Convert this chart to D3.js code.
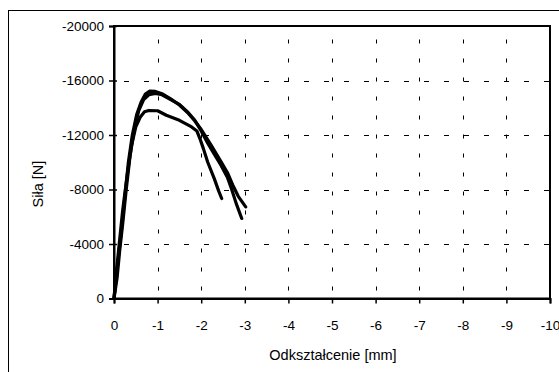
<!DOCTYPE html>
<html><head><meta charset="utf-8">
<script src="https://cdn.jsdelivr.net/npm/d3@7/dist/d3.min.js"></script>
<style>body{margin:0;background:#fff;} text{font-family:"Liberation Sans",Arial,sans-serif;}</style>
</head><body><svg id="c" width="559" height="372"></svg>
<script>
const xTicks = [0,-1,-2,-3,-4,-5,-6,-7,-8,-9,-10];
const yTicks = [0,-4000,-8000,-12000,-16000,-20000];
const xTitle = "Odkształcenie [mm]";
const yTitle = "Siła [N]";
const seriesA_x = [0,-0.05,-0.1,-0.17,-0.25,-0.33,-0.42,-0.52,-0.62,-0.72,-0.82,-0.95,-1.1,-1.3,-1.5,-1.7,-1.85,-1.98,-2.1,-2.22,-2.35,-2.48,-2.6,-2.72,-2.85,-3.02];
const seriesA_y = [0,-1500,-3000,-5000,-7500,-10000,-12000,-13500,-14400,-15000,-15220,-15200,-15030,-14650,-14200,-13600,-13050,-12500,-11900,-11300,-10600,-9900,-9250,-8350,-7500,-6725];
const seriesB_x = [0,-0.07,-0.13,-0.2,-0.28,-0.37,-0.47,-0.57,-0.68,-0.8,-0.95,-1.1,-1.3,-1.5,-1.7,-1.85,-2.0,-2.15,-2.3,-2.45,-2.6,-2.7,-2.8,-2.93];
const seriesB_y = [0,-1500,-3500,-5500,-8000,-10500,-12500,-13800,-14600,-14950,-15050,-14950,-14600,-14250,-13650,-13100,-12300,-11400,-10600,-9800,-8900,-8000,-7000,-5875];
const seriesC_x = [0,-0.05,-0.12,-0.2,-0.3,-0.4,-0.5,-0.6,-0.7,-0.8,-1.0,-1.2,-1.5,-1.78,-1.9,-1.97,-2.05,-2.15,-2.3,-2.4,-2.47];
const seriesC_y = [0,-1800,-4000,-6500,-9000,-11200,-12600,-13300,-13700,-13800,-13780,-13450,-13080,-12590,-12300,-11740,-11000,-10000,-8800,-7900,-7340];

const svg = d3.select("#c");
const L=114, R=550, T=26, B=298.5;
const x = d3.scaleLinear().domain([0,-10]).range([L,R]);
const y = d3.scaleLinear().domain([0,-20000]).range([B,T]);

// outer frame
svg.append("rect").attr("x",8.5).attr("y",10.5).attr("width",600).attr("height",400)
  .attr("fill","none").attr("stroke","#000").attr("stroke-width",1);

// gridlines
const g = svg.append("g");
g.selectAll(".vg").data(xTicks.slice(1,-1)).enter().append("line")
  .attr("x1",d=>Math.round(x(d))+0.5).attr("x2",d=>Math.round(x(d))+0.5)
  .attr("y1",B).attr("y2",T)
  .attr("stroke","#000").attr("stroke-width",1).attr("stroke-dasharray","4,15").attr("stroke-dashoffset",-8);
g.selectAll(".hg").data(yTicks.slice(1,-1)).enter().append("line")
  .attr("y1",d=>Math.round(y(d))+0.5).attr("y2",d=>Math.round(y(d))+0.5)
  .attr("x1",L).attr("x2",R)
  .attr("stroke","#000").attr("stroke-width",1).attr("stroke-dasharray","5,15").attr("stroke-dashoffset",-10);

// plot frame
svg.append("rect").attr("x",L).attr("y",T).attr("width",R-L).attr("height",B-T)
  .attr("fill","none").attr("stroke","#000").attr("stroke-width",2);

// axes
const xAxis = d3.axisBottom(x).tickValues(xTicks).tickSize(5).tickFormat(d=>d===0?"0":String(d));
const gx = svg.append("g").attr("transform",`translate(0,${B})`).call(xAxis);
gx.select(".domain").attr("stroke-width",2);
gx.selectAll(".tick line").attr("stroke-width",1.5);
gx.selectAll("text").attr("font-size",13.5).attr("y",31.5).attr("dy",0).attr("fill","#000")
  .attr("font-family","Liberation Sans, Arial, sans-serif");

const yAxis = d3.axisLeft(y).tickValues(yTicks).tickSize(5).tickPadding(5).tickFormat(d=>d===0?"0":String(d));
const gy = svg.append("g").attr("transform",`translate(${L},0)`).call(yAxis);
gy.select(".domain").attr("stroke-width",2);
gy.selectAll(".tick line").attr("stroke-width",1.5).attr("x2",-5).attr("x1",3);
gy.selectAll("text").attr("font-size",13.5).attr("x",-10).attr("fill","#000")
  .attr("font-family","Liberation Sans, Arial, sans-serif");

// titles
svg.append("text").attr("x",333).attr("y",360).attr("text-anchor","middle")
  .attr("font-size",14.5).text(xTitle);
svg.append("text").attr("transform","translate(43,184) rotate(-90)").attr("text-anchor","middle")
  .attr("font-size",14.5).text(yTitle);

// series
const line = d3.line().x(d=>x(d[0])).y(d=>y(d[1]));
const series = [
  d3.zip(seriesA_x, seriesA_y),
  d3.zip(seriesB_x, seriesB_y),
  d3.zip(seriesC_x, seriesC_y)
];
svg.append("g").selectAll("path").data(series).enter().append("path")
  .attr("d",line).attr("fill","none").attr("stroke","#000").attr("stroke-width",3.2)
  .attr("stroke-linejoin","round").attr("stroke-linecap","round");
</script></body></html>
